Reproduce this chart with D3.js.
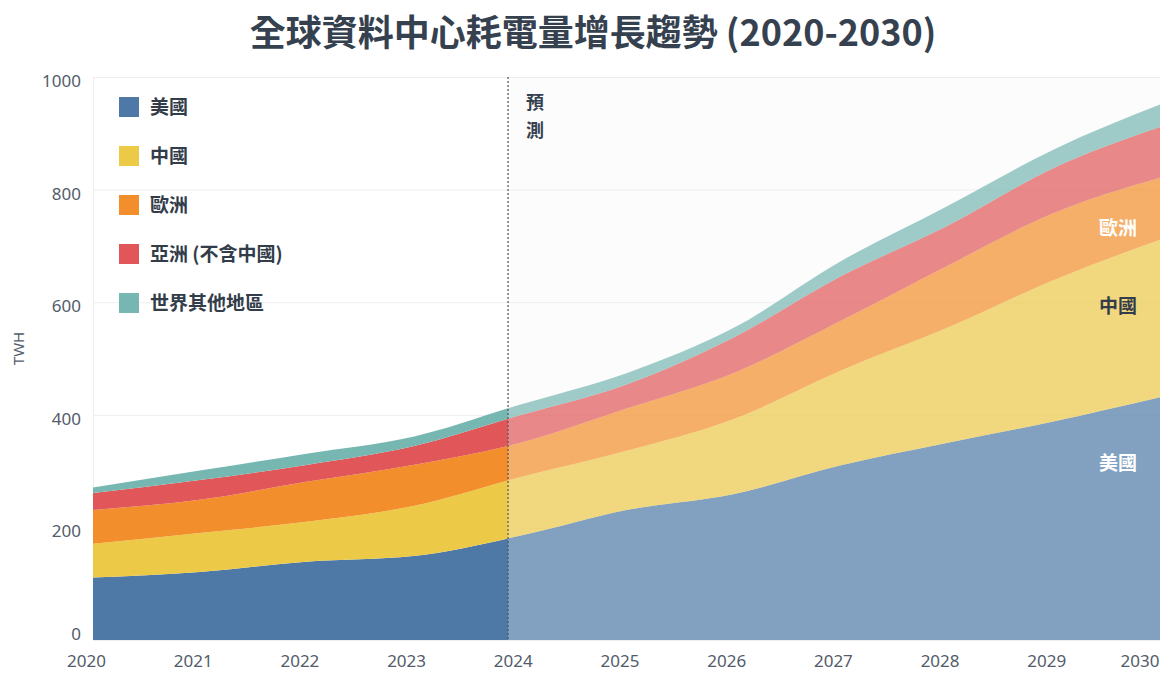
<!DOCTYPE html>
<html>
<head>
<meta charset="utf-8">
<script src="https://cdn.jsdelivr.net/npm/d3@7/dist/d3.min.js"></script>
<style>
  body { margin: 0; background: #fff; }
  text { font-family: "Noto Sans CJK TC", "Noto Sans", sans-serif; }
</style>
</head>
<body>
<div id="chart"></div>
<script>
// data (TWh)
var years   = [2020, 2021, 2022, 2023, 2024, 2025, 2026, 2027, 2028, 2029, 2030];
var usa     = [111, 121, 139, 149, 185, 231, 259, 310, 350, 388, 431];
var china   = [ 60,  69,  71,  89, 104, 105, 133, 168, 204, 251, 280];
var europe  = [ 60,  59,  71,  73,  61,  75,  82,  88, 110, 119, 110];
var asia    = [ 30,  35,  30,  33,  49,  43,  63,  79,  71,  80,  90];
var rest    = [ 10,  17,  20,  17,  19,  20,  17,  27,  35,  33,  40];

var seriesNames  = ["美國", "中國", "歐洲", "亞洲 (不含中國)", "世界其他地區"];
var seriesKeys   = ["usa", "china", "europe", "asia", "rest"];
var seriesColors = ["#4e79a7", "#edc948", "#f28e2b", "#e15759", "#76b7b2"];

var yTicks = [0, 200, 400, 600, 800, 1000];
var forecastStart = 2023.89;   // where the projection shading begins

// in-chart labels at the right end: [text, value on y axis, colour]
var endLabels = [["歐洲", 732, "#ffffff"], ["中國", 592, "#333d4a"], ["美國", 313, "#ffffff"]];

// build the table for d3.stack
var table = years.map(function(yr, i) {
    return {year: yr, usa: usa[i], china: china[i], europe: europe[i], asia: asia[i], rest: rest[i]};
});

var svgWidth = 1176, svgHeight = 680;
var margin = {top: 77, right: 16, bottom: 40, left: 93};
var chartWidth = svgWidth - margin.left - margin.right;
var chartHeight = svgHeight - margin.top - margin.bottom;

var svg = d3.select("#chart").append("svg")
    .attr("width", svgWidth)
    .attr("height", svgHeight);

// title
svg.append("text")
    .attr("x", svgWidth / 2 + 5)
    .attr("y", 46)
    .attr("text-anchor", "middle")
    .style("font-size", "36px")
    .style("font-weight", "bold")
    .style("fill", "#36414f")
    .text("全球資料中心耗電量增長趨勢 (2020-2030)");

var chartGroup = svg.append("g")
    .attr("transform", `translate(${margin.left}, ${margin.top})`);

var xScale = d3.scaleLinear().domain([2020, 2030]).range([0, chartWidth]);
var yScale = d3.scaleLinear().domain([0, 1000]).range([chartHeight, 0]);
var splitX = xScale(forecastStart);

// forecast background
chartGroup.append("rect")
    .attr("x", splitX)
    .attr("y", 0)
    .attr("width", chartWidth - splitX)
    .attr("height", chartHeight)
    .attr("fill", "#fcfcfc");

// gridlines
var grid = chartGroup.append("g")
    .call(d3.axisLeft(yScale).tickValues(yTicks).tickSize(-chartWidth).tickFormat(""));
grid.select(".domain").attr("stroke", "#eeeeee");
grid.selectAll(".tick line").attr("stroke", "#eeeeee");

// stacked areas
var stack = d3.stack().keys(seriesKeys);
var layers = stack(table);

var area = d3.area()
    .x(d => xScale(d.data.year))
    .y0(d => yScale(d[0]))
    .y1(d => yScale(d[1]))
    .curve(d3.curveMonotoneX);

var defs = svg.append("defs");
defs.append("clipPath").attr("id", "clipHist")
    .append("rect").attr("x", 0).attr("y", 0).attr("width", splitX).attr("height", chartHeight);
defs.append("clipPath").attr("id", "clipProj")
    .append("rect").attr("x", splitX).attr("y", 0).attr("width", chartWidth - splitX).attr("height", chartHeight);

chartGroup.append("g").attr("clip-path", "url(#clipHist)")
    .selectAll("path")
    .data(layers)
    .enter()
    .append("path")
    .attr("d", area)
    .attr("fill", (d, i) => seriesColors[i]);

chartGroup.append("g").attr("clip-path", "url(#clipProj)")
    .selectAll("path")
    .data(layers)
    .enter()
    .append("path")
    .attr("d", area)
    .attr("fill", (d, i) => seriesColors[i])
    .attr("fill-opacity", 0.7);

// dashed split line
chartGroup.append("line")
    .attr("x1", splitX).attr("x2", splitX)
    .attr("y1", 0).attr("y2", chartHeight)
    .attr("stroke", "#4a5361")
    .attr("stroke-width", 1.2)
    .attr("stroke-dasharray", "2,2");

// 預測 (vertical)
var forecastLabel = chartGroup.append("text")
    .attr("x", splitX + 27)
    .attr("y", 32)
    .attr("text-anchor", "middle")
    .style("font-size", "18px")
    .style("font-weight", "bold")
    .style("fill", "#36414f");
forecastLabel.append("tspan").attr("x", splitX + 27).text("預");
forecastLabel.append("tspan").attr("x", splitX + 27).attr("dy", 28).text("測");

// axes
var bottomAxis = d3.axisBottom(xScale).tickValues(years).tickFormat(d3.format("d")).tickSize(0).tickPadding(15);
var xAxisG = chartGroup.append("g")
    .attr("transform", `translate(0, ${chartHeight})`)
    .call(bottomAxis);
xAxisG.select(".domain").remove();
xAxisG.selectAll("text")
    .style("font-family", "'Noto Sans', sans-serif")
    .style("font-size", "17px")
    .style("fill", "#525c6a")
    .attr("dx", -7)
    .filter(d => d === 2030)
    .attr("text-anchor", "end")
    .attr("dx", -1);

var leftAxis = d3.axisLeft(yScale).tickValues(yTicks).tickFormat(d3.format("d")).tickSize(0).tickPadding(12);
var yAxisG = chartGroup.append("g").call(leftAxis);
yAxisG.select(".domain").remove();
yAxisG.selectAll("text")
    .style("font-family", "'Noto Sans', sans-serif")
    .style("font-size", "17px")
    .style("fill", "#525c6a")
    .attr("y", d => d === 0 ? -6 : 4);

// y axis title
chartGroup.append("text")
    .attr("transform", `translate(${-69}, ${chartHeight / 2 - 10})rotate(-90)`)
    .attr("text-anchor", "middle")
    .style("font-family", "'Noto Sans', sans-serif")
    .style("font-size", "15px")
    .style("fill", "#525c6a")
    .text("TWH");

// legend
var legend = chartGroup.selectAll(".legend")
    .data(seriesNames)
    .enter()
    .append("g")
    .attr("class", "legend")
    .attr("transform", (d, i) => `translate(26, ${20 + i * 49})`);

legend.append("rect")
    .attr("width", 20)
    .attr("height", 20)
    .attr("fill", (d, i) => seriesColors[i]);

legend.append("text")
    .attr("x", 31)
    .attr("y", 10)
    .attr("dy", "0.35em")
    .style("font-size", "19px")
    .style("font-weight", "bold")
    .style("fill", "#333d4a")
    .text(d => d);

// labels at the right end of the areas
chartGroup.selectAll(".endLabel")
    .data(endLabels)
    .enter()
    .append("text")
    .attr("class", "endLabel")
    .attr("x", xScale(2030) - 23)
    .attr("y", d => yScale(d[1]))
    .attr("dy", "0.35em")
    .attr("text-anchor", "end")
    .style("font-size", "19px")
    .style("font-weight", "bold")
    .style("fill", d => d[2])
    .text(d => d[0]);
</script>
</body>
</html>
